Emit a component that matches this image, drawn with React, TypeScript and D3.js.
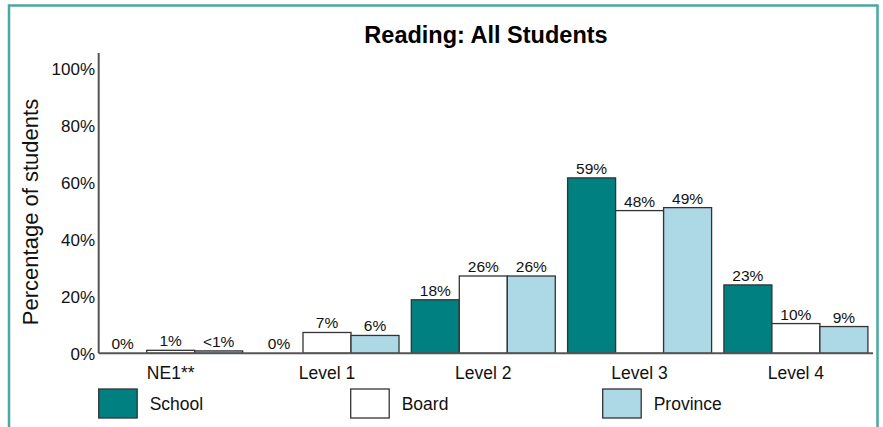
import * as d3 from "d3";

const WIDTH = 883;
const HEIGHT = 427;

const CATEGORIES = ["NE1**", "Level 1", "Level 2", "Level 3", "Level 4"];
const SERIES = ["School", "Board", "Province"];
const COLORS = ["#008080", "#ffffff", "#add8e6"];

// Percentages per series, in category order.
const SCHOOL = [0, 0, 18, 59, 23];
const BOARD = [1, 7, 26, 48, 10];
const PROVINCE = [0.8, 6, 26, 49, 9];
const SCHOOL_LABELS = ["0%", "0%", "18%", "59%", "23%"];
const BOARD_LABELS = ["1%", "7%", "26%", "48%", "10%"];
const PROVINCE_LABELS = ["<1%", "6%", "26%", "49%", "9%"];

const Y_TICKS = [0, 20, 40, 60, 80, 100];

const FONT = "'Liberation Sans', Arial, sans-serif";

export default function App() {
  const values = [SCHOOL, BOARD, PROVINCE];
  const labels = [SCHOOL_LABELS, BOARD_LABELS, PROVINCE_LABELS];

  const plotLeft = 98.7;
  const plotRight = 873;
  const base = 353.3;

  const x0 = d3
    .scaleBand<string>()
    .domain(CATEGORIES)
    .range([plotLeft, 867.9])
    .paddingInner(0.0787)
    .paddingOuter(0);
  const x1 = d3.scaleBand<string>().domain(SERIES).range([0, x0.bandwidth()]);
  const y = d3.scaleLinear().domain([0, 100]).range([base, 56]);
  // The tick labels sit a little off the bar scale in the original.
  const yLabel = d3.scaleLinear().domain([0, 100]).range([354, 69]);

  const legendX = d3.scaleBand<string>().domain(SERIES).range([plotLeft, plotLeft + 756]);

  return (
    <svg
      width={WIDTH}
      height={HEIGHT}
      viewBox={`0 0 ${WIDTH} ${HEIGHT}`}
      style={{ position: "absolute", left: 0, top: 0, display: "block", background: "#fff" }}
      fontFamily={FONT}
    >
      <rect x={9} y={5.5} width={868.5} height={440} fill="none" stroke="#48a8a3" strokeWidth={2.5} />

      <text x={486} y={42.5} textAnchor="middle" fontSize={23.5} fontWeight="bold" fill="#000">
        Reading: All Students
      </text>

      <text
        transform={`translate(37.5,212) rotate(-90)`}
        textAnchor="middle"
        fontSize={22}
        fill="#111"
      >
        Percentage of students
      </text>

      {Y_TICKS.map((t) => (
        <text key={t} x={95} y={yLabel(t)} dy="0.35em" textAnchor="end" fontSize={17} fill="#111">
          {`${t}%`}
        </text>
      ))}

      {CATEGORIES.map((c, ci) => (
        <g key={c} transform={`translate(${x0(c)},0)`}>
          {SERIES.map((s, si) => {
            const v = values[si][ci];
            const bx = x1(s) ?? 0;
            return (
              <g key={s}>
                {v > 0 && (
                  <rect
                    x={bx}
                    y={y(v)}
                    width={x1.bandwidth()}
                    height={base - y(v)}
                    fill={COLORS[si]}
                    stroke="#333"
                    strokeWidth={1.3}
                  />
                )}
                <text
                  x={bx + x1.bandwidth() / 2}
                  y={y(v) - 4}
                  textAnchor="middle"
                  fontSize={15.5}
                  fill="#111"
                >
                  {labels[si][ci]}
                </text>
              </g>
            );
          })}
          <text x={x0.bandwidth() / 2} y={379} textAnchor="middle" fontSize={17.5} fill="#111">
            {c}
          </text>
        </g>
      ))}

      <line x1={plotLeft} x2={plotLeft} y1={53} y2={base} stroke="#555" strokeWidth={2} />
      <line x1={plotLeft} x2={plotRight} y1={base} y2={base} stroke="#555" strokeWidth={2} />

      {SERIES.map((s, si) => {
        const lx = legendX(s) ?? 0;
        return (
          <g key={s}>
            <rect x={lx} y={389} width={38.5} height={29} fill={COLORS[si]} stroke="#333" strokeWidth={1.3} />
            <text x={lx + 51} y={410} fontSize={17.5} fill="#111">
              {s}
            </text>
          </g>
        );
      })}
    </svg>
  );
}
